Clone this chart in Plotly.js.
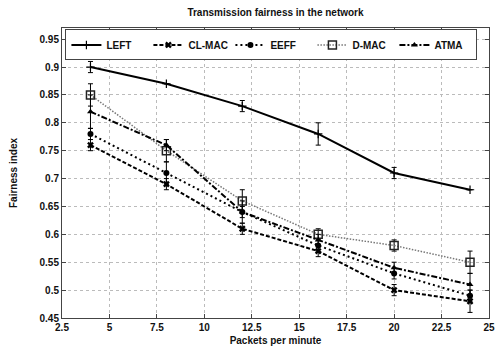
<!DOCTYPE html>
<html>
<head>
<meta charset="utf-8">
<script src="https://cdn.plot.ly/plotly-3.0.1.min.js"></script>
<style>
  html, body { margin: 0; padding: 0; background: #fff; }
  #chart { width: 497px; height: 354px; }
</style>
</head>
<body>
<div id="chart"></div>
<script>
// Packets per minute on the x axis
const packets = [4, 8, 12, 16, 20, 24];

// Fairness index per protocol
const left   = [0.90, 0.87, 0.83, 0.78, 0.71, 0.68];
const clmac  = [0.76, 0.69, 0.61, 0.57, 0.50, 0.48];
const eeff   = [0.78, 0.71, 0.64, 0.58, 0.53, 0.49];
const dmac   = [0.85, 0.75, 0.66, 0.60, 0.58, 0.55];
const atma   = [0.82, 0.76, 0.64, 0.59, 0.54, 0.51];

// Error bar half-widths
const leftErr  = [0.01, 0.0, 0.01, 0.02, 0.01, 0.0];
const clmacErr = [0.01, 0.01, 0.01, 0.01, 0.01, 0.02];
const eeffErr  = [0.01, 0.02, 0.01, 0.01, 0.01, 0.01];
const dmacErr  = [0.02, 0.02, 0.02, 0.01, 0.01, 0.02];
const atmaErr  = [0.03, 0.01, 0.02, 0.01, 0.01, 0.02];

const yTicks = [0.45, 0.5, 0.55, 0.6, 0.65, 0.7, 0.75, 0.8, 0.85, 0.9, 0.95];
const yTickText = ["0.45", "0.5", "0.55", "0.6", "0.65", "0.7", "0.75", "0.8", "0.85", "0.9", "0.95"];
const xTicks = [2.5, 5, 7.5, 10, 12.5, 15, 17.5, 20, 22.5, 25];
const xTickText = ["2.5", "5", "7.5", "10", "12.5", "15", "17.5", "20", "22.5", "25"];

const FONT = 'Liberation Sans, Arial, sans-serif';

function series(name, y, err, line, marker) {
  return {
    type: 'scatter', mode: 'lines+markers', name: name,
    x: packets, y: y,
    line: line, marker: marker,
    error_y: { type: 'data', array: err, visible: true, color: '#000', thickness: 1, width: 2.5 }
  };
}

const traces = [
  series('LEFT', left, leftErr, { color: '#000', width: 2, dash: 'solid' },
         { symbol: 'cross-thin-open', size: 6, color: '#000', line: { color: '#000', width: 1.2 } }),
  series('CL-MAC', clmac, clmacErr, { color: '#000', width: 2, dash: '4px,2px' },
         { symbol: 'x', size: 6, color: '#000' }),
  series('EEFF', eeff, eeffErr, { color: '#000', width: 2, dash: '2px,3px' },
         { symbol: 'circle', size: 6, color: '#000' }),
  series('D-MAC', dmac, dmacErr, { color: '#777', width: 1.5, dash: '1.5px,1.5px' },
         { symbol: 'square-open', size: 8, color: '#222', line: { color: '#222', width: 1.5 } }),
  series('ATMA', atma, atmaErr, { color: '#000', width: 2, dash: '6px,2px,2px,2px' },
         { symbol: 'triangle-up', size: 6, color: '#000' })
];

const axisCommon = {
  showline: true, linecolor: '#444', linewidth: 1, mirror: 'allticks',
  ticks: 'inside', ticklen: 4, tickcolor: '#444',
  showgrid: true, gridcolor: '#bbb', griddash: 'dot', gridwidth: 1,
  zeroline: false,
  tickfont: { family: FONT, size: 10, color: '#111', weight: 'bold' }
};

const layout = {
  width: 497, height: 354,
  margin: { l: 62, r: 8, t: 28, b: 36 },
  paper_bgcolor: '#fff', plot_bgcolor: '#fff',
  title: {
    text: 'Transmission fairness in the network',
    font: { family: FONT, size: 10, color: '#111', weight: 'bold' },
    xref: 'paper', x: 0.5, yref: 'container', y: 0.966, yanchor: 'middle'
  },
  xaxis: Object.assign({}, axisCommon, {
    range: [2.5, 25], tickvals: xTicks, ticktext: xTickText,
    title: { text: 'Packets per minute', standoff: 4,
             font: { family: FONT, size: 10, color: '#111', weight: 'bold' } }
  }),
  yaxis: Object.assign({}, axisCommon, {
    range: [0.45, 0.97], tickvals: yTicks, ticktext: yTickText,
    title: { text: 'Fairness index', standoff: 20,
             font: { family: FONT, size: 10, color: '#111', weight: 'bold' } }
  }),
  showlegend: true,
  legend: {
    orientation: 'h', x: 0.008, y: 0.995, xanchor: 'left', yanchor: 'top',
    bgcolor: '#fff', bordercolor: '#444', borderwidth: 1,
    itemwidth: 30, entrywidth: 37, entrywidthmode: 'pixels', tracegroupgap: 0,
    font: { family: FONT, size: 10, color: '#111', weight: 'bold' }
  }
};

Plotly.newPlot('chart', traces, layout, { displayModeBar: false, staticPlot: true });
</script>
</body>
</html>
